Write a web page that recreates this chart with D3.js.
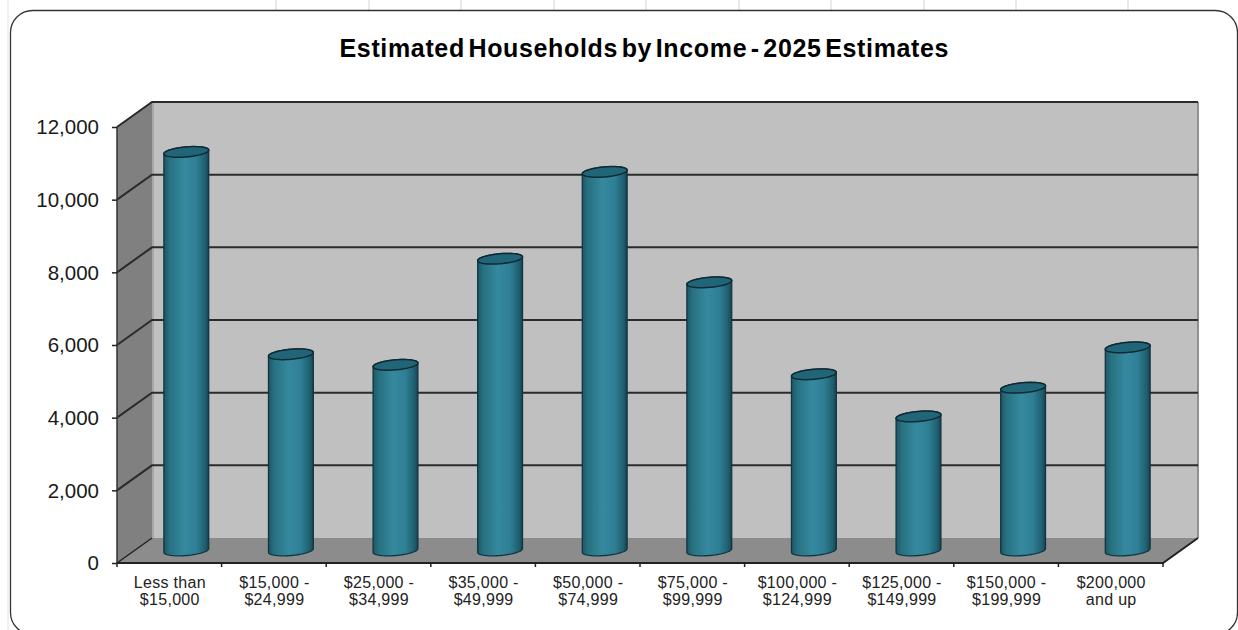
<!DOCTYPE html>
<html>
<head>
<meta charset="utf-8">
<script src="https://cdn.jsdelivr.net/npm/d3@7"></script>
<style>
html,body{margin:0;padding:0;background:#fff;overflow:hidden}
svg{display:block}
text{font-family:"Liberation Sans",Arial,sans-serif}
</style>
</head>
<body>
<svg id="chart" width="1238" height="630"></svg>
<script>
const titleText = "Estimated Households by Income - 2025 Estimates";
const categories = [
  ["Less than", "$15,000"], ["$15,000 -", "$24,999"], ["$25,000 -", "$34,999"],
  ["$35,000 -", "$49,999"], ["$50,000 -", "$74,999"], ["$75,000 -", "$99,999"],
  ["$100,000 -", "$124,999"], ["$125,000 -", "$149,999"], ["$150,000 -", "$199,999"],
  ["$200,000", "and up"]
];
const households = [10970, 5400, 5110, 8030, 10420, 7380, 4850, 3690, 4480, 5590];
const yTicks = [0, 2000, 4000, 6000, 8000, 10000, 12000];
const sheetLines = [276, 369, 461, 554, 646, 739, 831, 924, 1016, 1128];

const svg = d3.select("#chart");
const depth = {x: 35, y: -25};
const barShift = {x: 17, y: -12.5};

const y = d3.scaleLinear().domain([0, 12000]).range([563, 127]);
const x = d3.scaleBand().domain(d3.range(categories.length)).range([117, 1163]);
const right = x.range()[1], left = x.range()[0];
const base = y(0), top12 = y(12000);

// Spreadsheet cell borders showing behind the chart area
svg.selectAll("line.cell").data(sheetLines).join("line")
  .attr("x1", d => d).attr("x2", d => d).attr("y1", 0).attr("y2", 11)
  .attr("stroke", "#e2e2e2").attr("stroke-width", 1.5);
svg.append("line").attr("x1", 8).attr("x2", 8).attr("y1", 0).attr("y2", 630)
  .attr("stroke", "#f0f0f0").attr("stroke-width", 2);

// Chart area frame
svg.append("rect").attr("x", 10.5).attr("y", 10.5).attr("width", 1227).attr("height", 624)
  .attr("rx", 22).attr("ry", 22).attr("fill", "#fff").attr("stroke", "#333").attr("stroke-width", 1.3);

svg.append("text").attr("x", 644).attr("y", 57).attr("text-anchor", "middle")
  .attr("font-size", 25).attr("font-weight", 700).attr("fill", "#000")
  .attr("word-spacing", -4)
  .attr("textLength", 609).attr("lengthAdjust", "spacing").text(titleText);

const defs = svg.append("defs");
const grad = defs.append("linearGradient").attr("id", "cyl");
[[0, "#1c5668"], [0.12, "#27707f"], [0.45, "#35899f"], [0.72, "#2f7f95"], [0.92, "#1f5f70"], [1, "#18424f"]]
  .forEach(([o, c]) => grad.append("stop").attr("offset", o).attr("stop-color", c));

// Walls and floor of the 3-D box
const poly = pts => pts.map(p => p.join(",")).join(" ");
svg.append("polygon").attr("fill", "#c0c0c0").attr("points", poly([
  [left + depth.x, top12 + depth.y], [right + depth.x, top12 + depth.y],
  [right + depth.x, base + depth.y], [left + depth.x, base + depth.y]]));
svg.append("polygon").attr("fill", "#808080").attr("points", poly([
  [left, top12], [left + depth.x, top12 + depth.y],
  [left + depth.x, base + depth.y], [left, base]]));
svg.append("polygon").attr("fill", "#8c8c8c").attr("points", poly([
  [left, base], [left + depth.x, base + depth.y],
  [right + depth.x, base + depth.y], [right, base]]));

// Soft edges of the back wall
svg.append("line").attr("x1", left + depth.x + 1).attr("x2", left + depth.x + 1)
  .attr("y1", top12 + depth.y).attr("y2", base + depth.y).attr("stroke", "#a6a6a6").attr("stroke-width", 2);
svg.append("line").attr("x1", right + depth.x).attr("x2", right + depth.x)
  .attr("y1", top12 + depth.y).attr("y2", base + depth.y).attr("stroke", "#8f8f8f").attr("stroke-width", 2);

// Gridlines wrap from the left wall onto the back wall
const grid = yTicks.filter(d => d > 0);
svg.selectAll("polyline.grid").data(grid).join("polyline")
  .attr("fill", "none").attr("stroke", "#2b2b2b").attr("stroke-width", 2)
  .attr("points", d => poly([[left, y(d)], [left + depth.x, y(d) + depth.y], [right + depth.x, y(d) + depth.y]]));

// Front edges of the box
svg.append("line").attr("x1", left).attr("x2", left).attr("y1", top12).attr("y2", base)
  .attr("stroke", "#333").attr("stroke-width", 1.5);
svg.append("polyline").attr("fill", "none").attr("stroke", "#222").attr("stroke-width", 1.5)
  .attr("points", poly([[left, base], [left + depth.x, base + depth.y]]));
svg.append("polyline").attr("fill", "none").attr("stroke", "#222").attr("stroke-width", 2)
  .attr("points", poly([[left, base], [right, base], [right + depth.x, base + depth.y]]));

// Value axis
const yAxis = svg.append("g").attr("transform", `translate(${left},0)`)
  .call(d3.axisLeft(y).tickValues(yTicks).tickFormat(d3.format(",")).tickSize(5).tickPadding(13));
yAxis.select(".domain").remove();
yAxis.selectAll("line").attr("stroke", "#222").attr("stroke-width", 1.5);
yAxis.selectAll("text").attr("font-size", 20.5).attr("fill", "#1a1a1a").attr("dy", "0.33em");

// Category axis, two lines per label
const xAxis = svg.append("g").attr("transform", `translate(0,${base})`);
xAxis.selectAll("line").data(d3.range(categories.length + 1)).join("line")
  .attr("x1", d => left + d * x.step()).attr("x2", d => left + d * x.step())
  .attr("y1", 0).attr("y2", 4).attr("stroke", "#222").attr("stroke-width", 1.5);
const catLabels = xAxis.selectAll("text").data(categories).join("text")
  .attr("text-anchor", "middle").attr("font-size", 16).attr("letter-spacing", 0.3).attr("fill", "#222");
catLabels.each(function (d, i) {
  d3.select(this).selectAll("tspan").data(d).join("tspan")
    .attr("x", x(i) + x.bandwidth() / 2 + 0.5)
    .attr("y", (t, j) => 25 + j * 17)
    .text(t => t);
});

// Cylinders: a tilted ellipse outline gives the curved base and the cap
const capA = 22.5, capB = 5, tilt = -5 * Math.PI / 180;
const ellipsePoint = (a, cy) => {
  const ex = capA * Math.cos(a), ey = capB * Math.sin(a);
  return [ex * Math.cos(tilt) - ey * Math.sin(tilt), cy + ex * Math.sin(tilt) + ey * Math.cos(tilt)];
};
const halfTurn = d3.range(0, 37).map(k => k * Math.PI / 36);
const outline = d3.line();
const bars = svg.selectAll("g.bar").data(households).join("g").attr("class", "bar")
  .attr("transform", (d, i) => `translate(${x(i) + x.bandwidth() / 2 + barShift.x},0)`);
bars.append("path")
  .attr("fill", "url(#cyl)").attr("stroke", "#143540").attr("stroke-width", 1.3)
  .attr("d", d => {
    const t = y(d) + barShift.y, b = base + barShift.y;
    return outline([...halfTurn.map(a => ellipsePoint(a, b)), ...halfTurn.map(a => ellipsePoint(a + Math.PI, t))]) + "Z";
  });
bars.append("path")
  .attr("fill", "#206678").attr("stroke", "#0f2a33").attr("stroke-width", 1.5)
  .attr("d", d => outline([...halfTurn, ...halfTurn.map(a => a + Math.PI)].map(a => ellipsePoint(a, y(d) + barShift.y))) + "Z");
</script>
</body>
</html>
